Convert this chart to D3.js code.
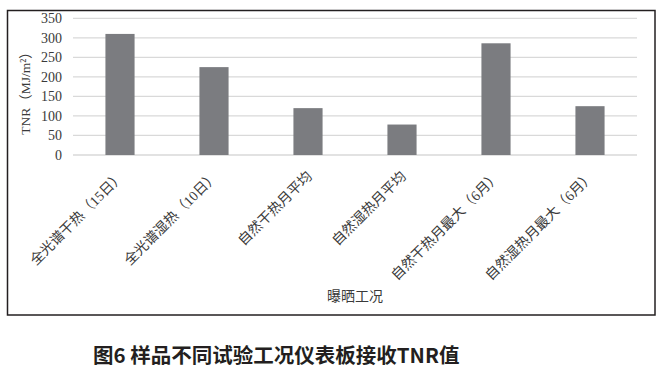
<!DOCTYPE html>
<html><head><meta charset="utf-8">
<script src="https://cdn.jsdelivr.net/npm/d3@7"></script>
<style>body{margin:0;background:#fff;} svg{display:block;}</style>
</head><body>
<script>
const categories = ["全光谱干热（15日）","全光谱湿热（10日）","自然干热月平均","自然湿热月平均","自然干热月最大（6月）","自然湿热月最大（6月）"];
const values = [310, 225, 120, 78, 286, 125];
const yTicks = [0,50,100,150,200,250,300,350];
const yTitle = "TNR（MJ/m²）";
const xTitle = "曝晒工况";
const caption = "图6 样品不同试验工况仪表板接收TNR值";

const W = 665, H = 374;
const svg = d3.select("body").append("svg").attr("width", W).attr("height", H);
const serif = "'Liberation Serif','Noto Sans CJK SC',serif";

// frame
svg.append("rect").attr("x", 7.5).attr("y", 10.5).attr("width", 647.5).attr("height", 304.5)
  .attr("fill", "none").attr("stroke", "#231f20").attr("stroke-width", 1.5);

const x = d3.scaleBand().domain(categories).range([73, 637]).paddingInner(0.69).paddingOuter(0.345);
const y = d3.scaleLinear().domain([0, 350]).range([155, 18.3]);

// gridlines
svg.append("g").selectAll("line").data(yTicks).join("line")
  .attr("x1", 73).attr("x2", 637)
  .attr("y1", d => y(d)).attr("y2", d => y(d))
  .attr("stroke", "#d9d9d9").attr("stroke-width", 1.3);

// y axis labels
const yAxis = d3.axisLeft(y).tickValues(yTicks).tickSize(0).tickPadding(0);
const ya = svg.append("g").attr("transform", "translate(62,0)").call(yAxis);
ya.select(".domain").remove();
ya.selectAll("text").attr("font-family", serif).attr("font-size", 14).attr("fill", "#3a3a3a");

// bars
svg.append("g").selectAll("rect").data(values).join("rect")
  .attr("x", (d, i) => x(categories[i]))
  .attr("y", d => y(d))
  .attr("width", x.bandwidth())
  .attr("height", d => y(0) - y(d))
  .attr("fill", "#7b7c80");

// x axis labels
const xAxis = d3.axisBottom(x).tickSize(0).tickPadding(0);
const xa = svg.append("g").attr("transform", "translate(0,155)").call(xAxis);
xa.select(".domain").remove();
xa.selectAll("text")
  .attr("font-family", serif).attr("font-size", 14).attr("fill", "#3a3a3a")
  .attr("text-anchor", "end").attr("dy", 0).attr("y", 0)
  .attr("transform", "translate(5,22) rotate(-45)");

// y title
svg.append("text").attr("transform", "translate(30,90) rotate(-90)")
  .attr("text-anchor", "middle").attr("font-family", serif).attr("font-size", 13.5)
  .attr("fill", "#3a3a3a").text(yTitle);

// x title
svg.append("text").attr("x", 355).attr("y", 301).attr("text-anchor", "middle")
  .attr("font-family", serif).attr("font-size", 14).attr("fill", "#3a3a3a").text(xTitle);

// caption
svg.append("text").attr("x", 93).attr("y", 363)
  .attr("font-family", "'Noto Sans CJK SC',sans-serif").attr("font-size", 20.5).attr("font-weight", "bold")
  .attr("fill", "#231f20").text(caption);
</script>
</body></html>
